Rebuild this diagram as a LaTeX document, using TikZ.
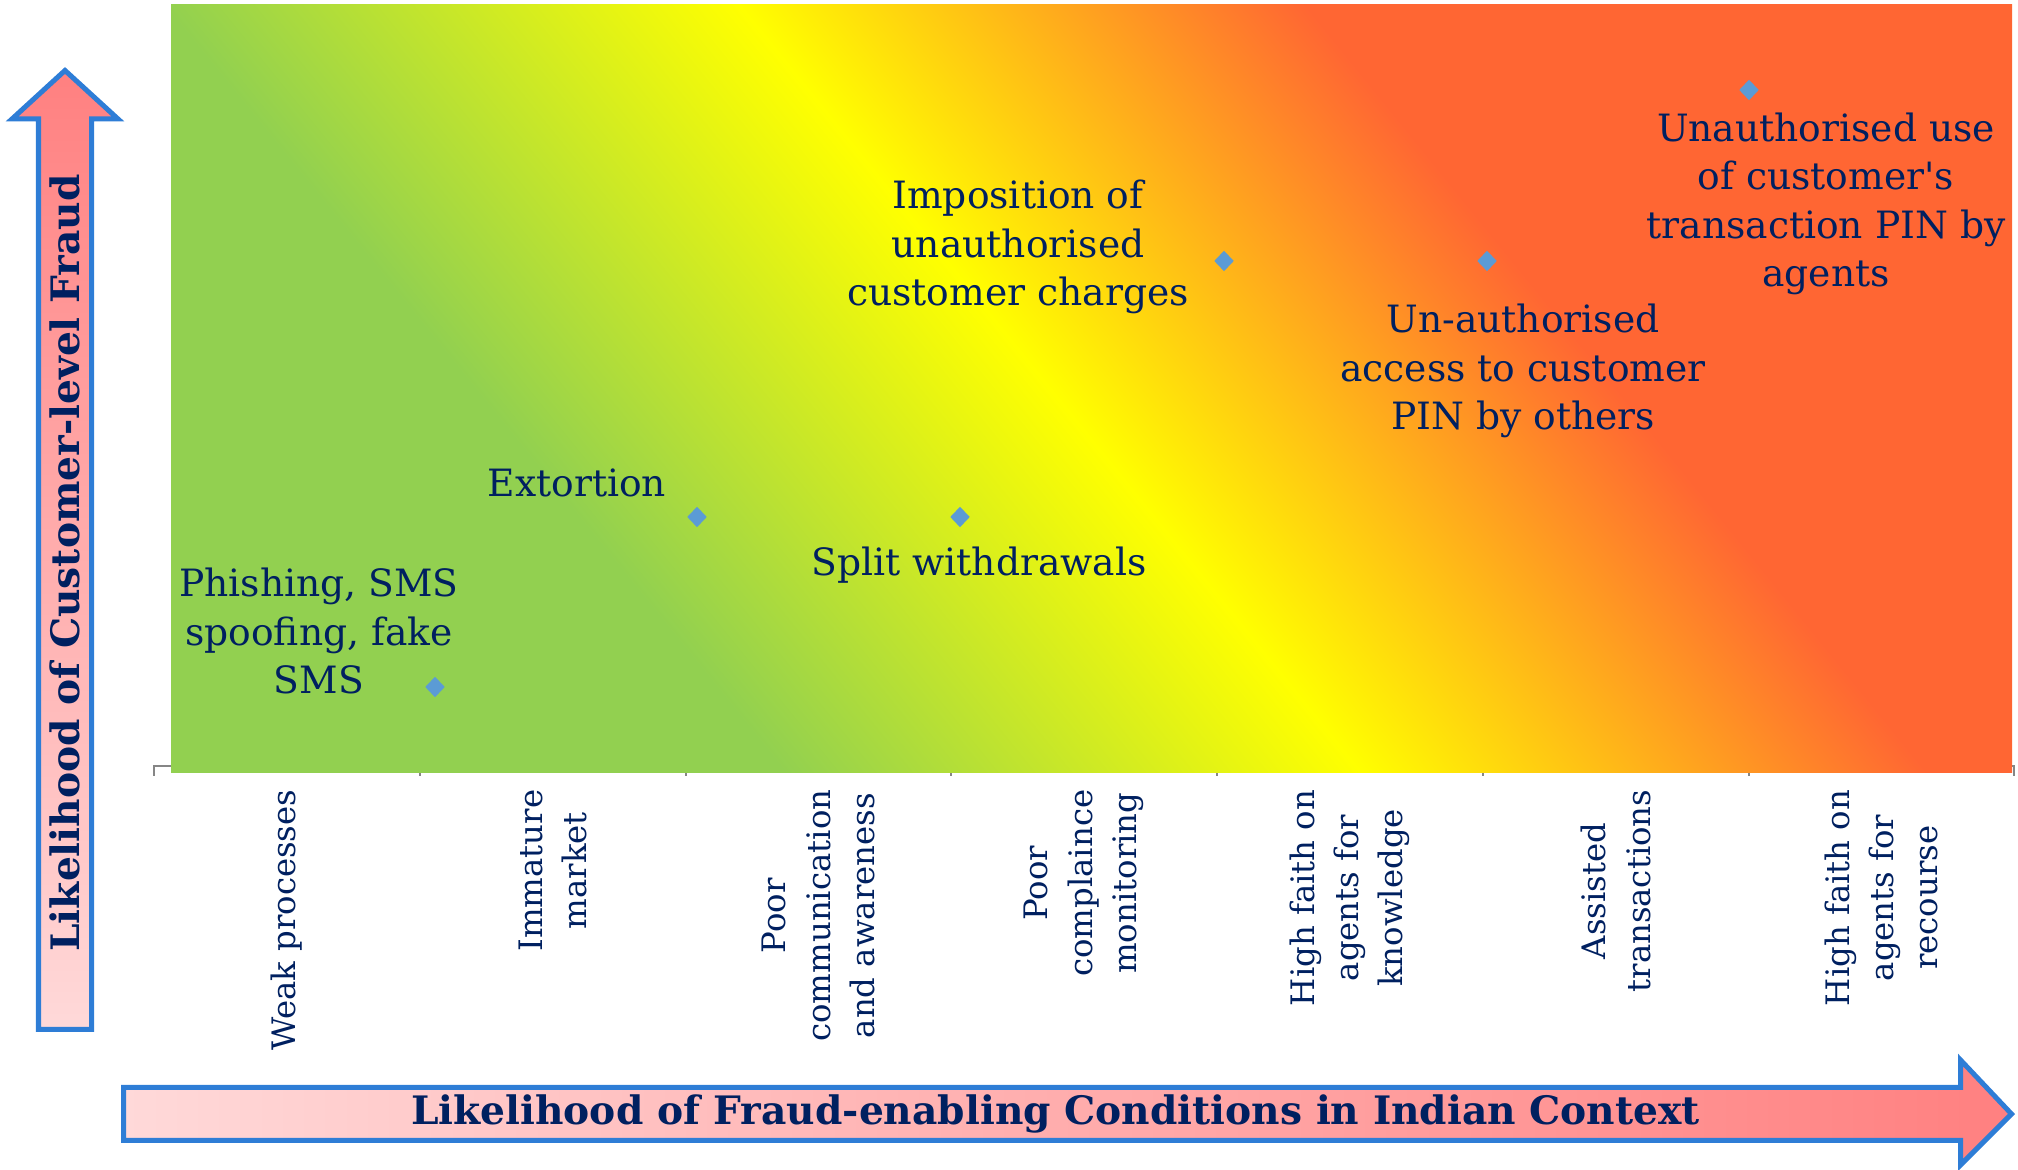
\documentclass[tikz,border=0pt]{standalone}
\usepackage{fontspec}
\setmainfont{DejaVu Serif}
\usepackage{tikz}
\usetikzlibrary{shapes.geometric}

\definecolor{testo}{RGB}{0,32,96}
\definecolor{verde}{RGB}{146,208,80}
\definecolor{giallo}{RGB}{255,255,0}
\definecolor{rosso}{RGB}{255,102,51}
\definecolor{bordo}{RGB}{46,125,214}
\definecolor{rosa}{RGB}{255,217,217}
\definecolor{salmone}{RGB}{255,128,128}
\definecolor{blupunto}{RGB}{91,155,213}
\definecolor{grigio}{RGB}{134,134,134}

\pgfdeclarehorizontalshading{sfondo}{100bp}{color(0bp)=(verde); color(38bp)=(verde); color(49.2bp)=(giallo); color(60.2bp)=(rosso); color(100bp)=(rosso)}

\tikzset{
  punto/.style={diamond, fill=blupunto, inner sep=0pt, minimum width=0.2cm, minimum height=0.21cm},
  etichetta/.style={text=testo, align=center, inner sep=0pt, font=\fontsize{10.7}{13.75}\selectfont},
  categoria/.style={text=testo, align=center, rotate=90, anchor=east, inner sep=0pt, font=\fontsize{9.2}{12.6}\selectfont},
  freccia/.style={draw=bordo, line width=0.05cm},
  titolo/.style={text=testo, inner sep=0pt, font=\bfseries\fontsize{11.15}{13}\selectfont}
}

\begin{document}
\begin{tikzpicture}

	\useasboundingbox (0,0) rectangle (20.18,11.70);

	% Disegnare l'asse x con le tacche
	\draw[grigio, line width=0.02cm] (1.54,3.94) -- (1.54,4.04) -- (20.14,4.04) -- (20.14,3.94);
	\draw[grigio, line width=0.02cm] (4.20,4.04) -- (4.20,3.94) (6.86,4.04) -- (6.86,3.94)
		(9.51,4.04) -- (9.51,3.94) (12.17,4.04) -- (12.17,3.94)
		(14.83,4.04) -- (14.83,3.94) (17.49,4.04) -- (17.49,3.94);

	% Disegnare lo sfondo sfumato (verde - giallo - rosso)
	\begin{scope}
		\clip (1.71,3.97) rectangle (20.12,11.65);
		\begin{scope}[transform canvas={rotate around={39:(10.915,7.81)}}]
			\shade[shading=sfondo] (0.915,-2.19) rectangle (20.915,17.81);
		\end{scope}
	\end{scope}

	% Disegnare i punti
	\node[punto] (p1) at (4.35,4.83) {};
	\node[punto] (p2) at (6.97,6.53) {};
	\node[punto] (p3) at (9.60,6.53) {};
	\node[punto] (p4) at (12.24,9.09) {};
	\node[punto] (p5) at (14.87,9.09) {};
	\node[punto] (p6) at (17.49,10.80) {};

	% Etichette dei punti
	\node[etichetta] (phishing) at (3.19,5.39) {Phishing, SMS\\spoofing, fake\\SMS};
	\node[etichetta] (extortion) at (5.77,6.87) {Extortion};
	\node[etichetta] (split) at (9.79,6.05) {Split withdrawals};
	\node[etichetta] (charges) at (10.18,9.23) {Imposition of\\unauthorised\\customer charges};
	\node[etichetta] (access) at (15.23,7.99) {Un-authorised\\access to customer\\PIN by others};
	\node[etichetta] (pinuse) at (18.26,9.66) {Unauthorised use\\of customer\textquotesingle s\\transaction PIN by\\agents};

	% Etichette delle categorie (ruotate)
	\node[categoria] (c1) at (2.87,3.81) {Weak processes};
	\node[categoria] (c2) at (5.53,3.81) {Immature\\market};
	\node[categoria] (c3) at (8.185,3.81) {Poor\\communication\\and awareness};
	\node[categoria] (c4) at (10.84,3.81) {Poor\\complaince\\monitoring};
	\node[categoria] (c5) at (13.50,3.81) {High faith on\\agents for\\knowledge};
	\node[categoria] (c6) at (16.16,3.81) {Assisted\\transactions};
	\node[categoria] (c7) at (18.815,3.81) {High faith on\\agents for\\recourse};

	% Freccia verticale
	\shadedraw[freccia, top color=salmone, bottom color=rosa] (0.385,1.405) -- (0.385,10.51) -- (0.12,10.51)
		-- (0.65,10.995) -- (1.18,10.51) -- (0.915,10.51) -- (0.915,1.405) -- cycle;
	\node[titolo, rotate=90] (titoloy) at (0.65,6.07) {Likelihood of Customer-level Fraud};

	% Freccia orizzontale
	\shadedraw[freccia, left color=rosa, right color=salmone] (1.235,0.295) -- (1.235,0.825) -- (19.605,0.825)
		-- (19.605,1.10) -- (20.115,0.56) -- (19.605,0.05) -- (19.605,0.295) -- cycle;
	\node[titolo] (titolox) at (10.555,0.56) {Likelihood of Fraud-enabling Conditions in Indian Context};

\end{tikzpicture}
\end{document}
